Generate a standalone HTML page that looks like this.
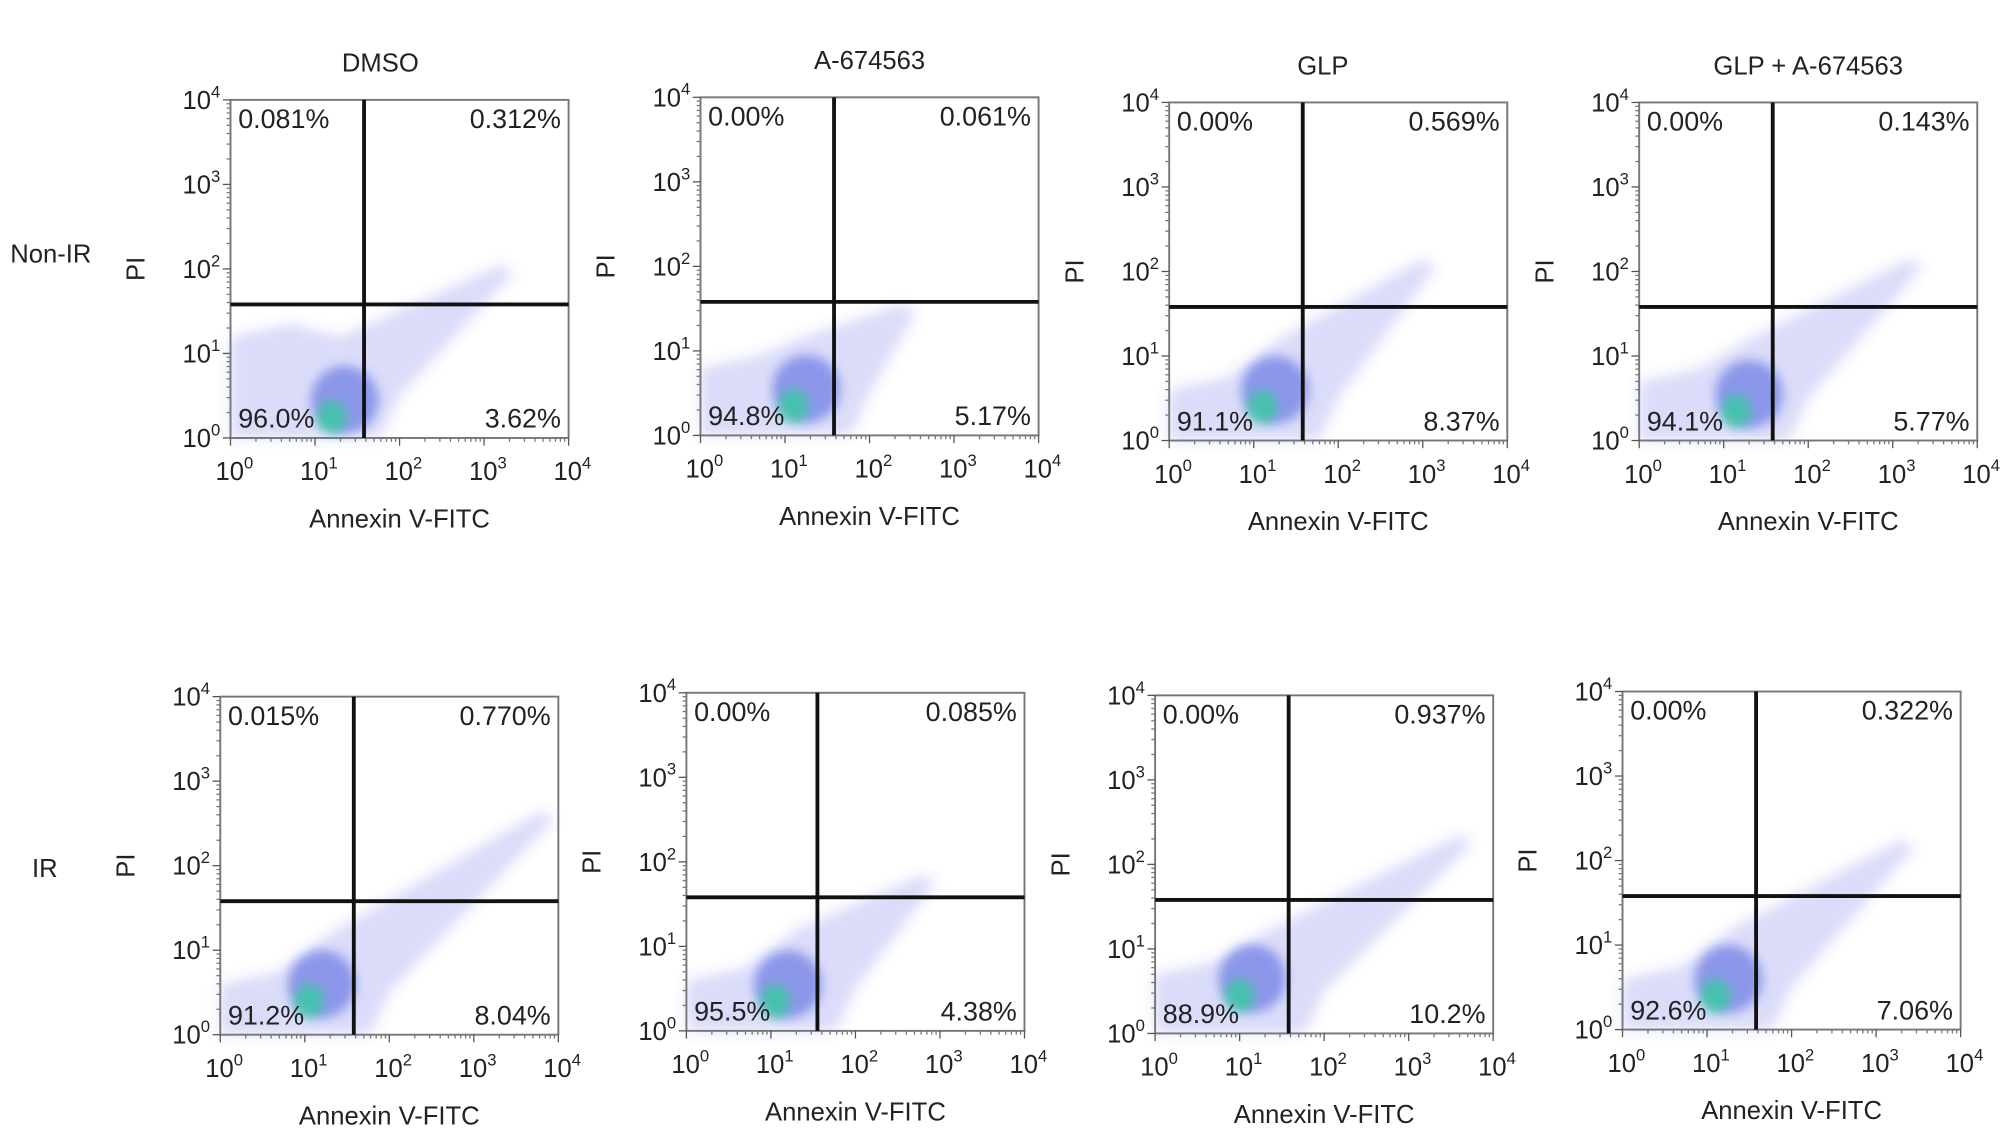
<!DOCTYPE html>
<html><head><meta charset="utf-8"><style>
html,body{margin:0;padding:0;background:#fff;}
svg{display:block;}
text{font-family:"Liberation Sans",Arial,sans-serif;fill:#222;}
</style></head><body>
<svg id="fig" width="2008" height="1141" viewBox="0 0 1568 891" preserveAspectRatio="none" xmlns="http://www.w3.org/2000/svg">
<defs>
<filter id="blur" x="-20%" y="-20%" width="140%" height="140%"><feGaussianBlur stdDeviation="5"/></filter>
<filter id="blur2" x="-50%" y="-50%" width="200%" height="200%"><feGaussianBlur stdDeviation="4"/></filter>
</defs>
<text x="8" y="205" font-size="20">Non-IR</text>
<text x="25" y="685" font-size="20">IR</text>
</svg>
<script>
const titles = ["DMSO","A-674563","GLP","GLP + A-674563"];
const ulPct = ["0.081%","0.00%","0.00%","0.00%","0.015%","0.00%","0.00%","0.00%"];
const urPct = ["0.312%","0.061%","0.569%","0.143%","0.770%","0.085%","0.937%","0.322%"];
const llPct = ["96.0%","94.8%","91.1%","94.1%","91.2%","95.5%","88.9%","92.6%"];
const lrPct = ["3.62%","5.17%","8.37%","5.77%","8.04%","4.38%","10.2%","7.06%"];
const gateX = [1.58,1.58,1.58,1.58,1.58,1.55,1.58,1.58];
const gateY = [1.58,1.58,1.58,1.58,1.58,1.58,1.58,1.58];
const tailX = [3.3,2.5,3.1,3.3,3.9,2.9,3.7,3.4];
const tailY = [2.0,1.5,2.1,2.1,2.6,1.8,2.3,2.2];
const leftY = [1.2,0.8,0.6,0.7,0.6,0.6,0.7,0.6];
const coreX = [1.2,1.1,1.1,1.15,1.05,1.05,1.0,1.1];
const coreY = [0.25,0.35,0.4,0.35,0.4,0.35,0.45,0.4];
const tickLabels = ["0","1","2","3","4"];

const lefts = [180,547,913,1280,172,536,902,1267];
const tops = [78,76,80,80,544,541,543,540];
const titleOff = [-15,0,-12,0];
const S = 264;
const NS = "http://www.w3.org/2000/svg";
const svg = document.getElementById("fig");
function mk(tag, attrs, parent){const e=document.createElementNS(NS,tag);for(const k in attrs)e.setAttribute(k,attrs[k]);(parent||svg).appendChild(e);return e;}

for(let i=0;i<8;i++){
  const L=lefts[i],T=tops[i];
  const sx=v=>L+v/4*S, sy=v=>T+S-v/4*S;
  const g=mk("g",{});
  
  
  if(i<4){
    const t=mk("text",{x:L+S/2+titleOff[i],y:T-22,"font-size":20,"text-anchor":"middle"},g);
    
    
    t.textContent=titles[i];
  }
  const pts=[[0,0],[0,leftY[i]],[0.7,leftY[i]+0.15],[1.3,1.2],[tailX[i]-0.1,tailY[i]+0.05],[tailX[i]+0.05,tailY[i]-0.05],[2.0,0.5],[1.8,0.05],[1.7,0]];
  const cloud=mk("polygon",{points:pts.map(p=>sx(p[0])+","+sy(p[1])).join(" "),fill:"rgba(70,80,225,0.2)",filter:"url(#blur)"},g);
  
  
  const dense=mk("ellipse",{cx:sx(coreX[i]+0.15),cy:sy(coreY[i]+0.2),rx:S*0.1,ry:S*0.1,fill:"rgba(30,50,210,0.4)",filter:"url(#blur2)"},g);
  
  
  const core=mk("ellipse",{cx:sx(coreX[i]),cy:sy(coreY[i]),rx:S*0.045,ry:S*0.05,fill:"rgba(40,210,150,0.7)",filter:"url(#blur2)"},g);
  
  
  const box=mk("rect",{x:L,y:T,width:S,height:S,fill:"none",stroke:"#777","stroke-width":1.5},g);
  
  
  const vl=mk("line",{x1:sx(gateX[i]),x2:sx(gateX[i]),y1:T,y2:T+S,stroke:"#111","stroke-width":3},g);
  
  
  const hl=mk("line",{x1:L,x2:L+S,y1:sy(gateY[i]),y2:sy(gateY[i]),stroke:"#111","stroke-width":3},g);
  
  
  for(let d=0;d<=4;d++){
    const yt=mk("text",{x:L-8,y:sy(d)+7,"font-size":20,"text-anchor":"end"},g);
    
    
    yt.innerHTML='10<tspan font-size="13" dy="-9">'+tickLabels[d]+'</tspan>';
    const xt=mk("text",{x:sx(d)+3,y:T+S+33,"font-size":20,"text-anchor":"middle"},g);
    
    
    xt.innerHTML='10<tspan font-size="13" dy="-9">'+tickLabels[d]+'</tspan>';
    if(d<4){for(let m=2;m<=9;m++){
      const lv=d+Math.log10(m);
      mk("line",{x1:sx(lv),x2:sx(lv),y1:T+S,y2:T+S+3,stroke:"#777"},g);
      mk("line",{x1:L,x2:L-3,y1:sy(lv),y2:sy(lv),stroke:"#777"},g);
    }}
    mk("line",{x1:sx(d),x2:sx(d),y1:T+S,y2:T+S+6,stroke:"#555"},g);
    mk("line",{x1:L,x2:L-6,y1:sy(d),y2:sy(d),stroke:"#555"},g);
  }
  const xl=mk("text",{x:L+S/2,y:T+S+70,"font-size":20,"text-anchor":"middle"},g);
  
  
  xl.textContent="Annexin V-FITC";
  const yl=mk("text",{x:0,y:0,"font-size":20,"text-anchor":"middle",transform:"translate("+(L-67)+","+(T+S/2)+") rotate(-90)"},g);
  
  
  yl.textContent="PI";
  const q=[[ulPct[i],L+6,T+22,"start"],[urPct[i],L+S-6,T+22,"end"],[llPct[i],L+6,T+S-8,"start"],[lrPct[i],L+S-6,T+S-8,"end"]];
  for(const [s,x,y,a] of q){
    const t=mk("text",{x:x,y:y,"font-size":21,"text-anchor":a},g);
    
    
    t.textContent=s;
  }
}
</script>
</body></html>
